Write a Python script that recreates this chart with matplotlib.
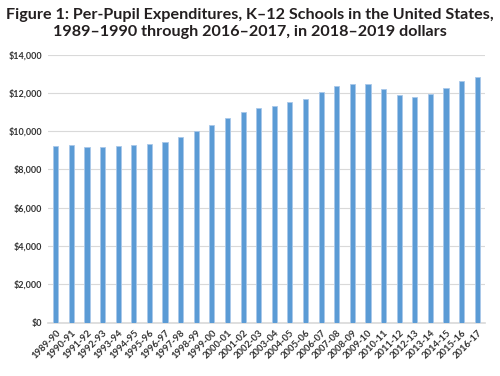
import numpy as np
import matplotlib.pyplot as plt

years = ["1989-90", "1990-91", "1991-92", "1992-93", "1993-94", "1994-95", "1995-96",
         "1996-97", "1997-98", "1998-99", "1999-00", "2000-01", "2001-02", "2002-03",
         "2003-04", "2004-05", "2005-06", "2006-07", "2007-08", "2008-09", "2009-10",
         "2010-11", "2011-12", "2012-13", "2013-14", "2014-15", "2015-16", "2016-17"]
spending = [9232, 9253, 9180, 9149, 9201, 9285, 9306,
            9426, 9671, 10000, 10329, 10663, 10977, 11185,
            11321, 11499, 11655, 12021, 12334, 12454, 12438,
            12209, 11864, 11791, 11932, 12245, 12595, 12820]

plt.rcParams['font.family'] = ['Lato', 'DejaVu Sans']

fig = plt.figure(figsize=(5, 3.76), dpi=100)
ax = fig.add_axes([0.096, 0.142, 0.874, 0.713])

x = np.arange(len(years))
ax.bar(x, spending, width=0.33, color="#5B9BD5", edgecolor="#A9C8EA", linewidth=0.6, zorder=3)

ax.set_ylim(0, 14000)
ax.set_xlim(-0.5, len(years) - 0.5)
ax.set_yticks(np.arange(0, 14001, 2000))
ax.set_yticklabels(["${:,}".format(v) for v in range(0, 14001, 2000)],
                   fontsize=6.5, fontweight="bold", color="#333333")
ax.set_xticks(x)
ax.set_xticklabels(years, rotation=45, ha="right", rotation_mode="anchor",
                   fontsize=6.8, fontweight="bold", color="#333333")
ax.tick_params(length=0, pad=4)
ax.grid(axis="y", color="#D9D9D9", linewidth=0.8, zorder=0)
for s in ["top", "right", "left"]:
    ax.spines[s].set_visible(False)
ax.spines["bottom"].set_color("#D9D9D9")
ax.spines["bottom"].set_linewidth(1.2)

fig.text(0.5, 0.978, "Figure 1: Per-Pupil Expenditures, K\u201312 Schools in the United States,\n"
         "1989\u20131990 through 2016\u20132017, in 2018\u20132019 dollars",
         ha="center", va="top", fontsize=11.6, fontweight="bold", color="#231F20",
         linespacing=1.25)

fig.savefig("out.png", dpi=100)
